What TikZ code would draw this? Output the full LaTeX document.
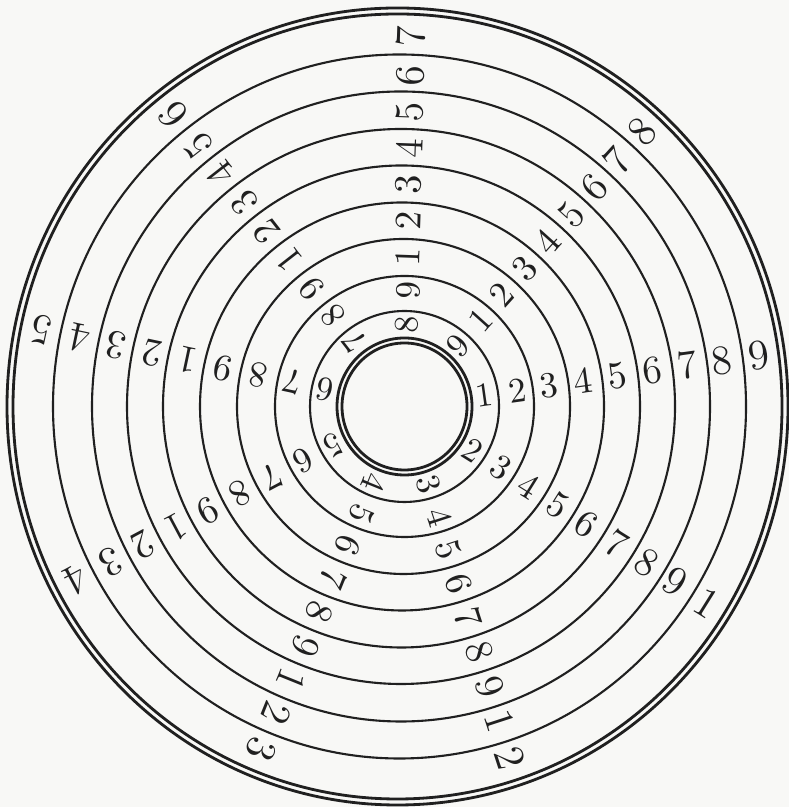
\documentclass[tikz,border=0pt]{standalone}
\definecolor{inkdark}{HTML}{202020}
\definecolor{paper}{HTML}{F8F8F6}

\begin{document}
\begin{tikzpicture}[x=0.01cm, y=0.01cm, line width=0.6pt,
    ring/.style={draw=inkdark},
    rim/.style={draw=inkdark, line width=0.8pt},
    digit/.style={inner sep=0pt, text=inkdark}]

    % Paper
    \fill[paper] (0,0) rectangle (789,807);
    \useasboundingbox (0,0) rectangle (789,807);

    % Hub (double circle)
    \draw[rim] (404.5,400.5) ellipse [x radius=62.5, y radius=63.5];
    \draw[rim] (404.5,400.5) ellipse [x radius=67.5, y radius=68.5];

    % Rings between the hub and the rim
    \foreach \cx/\rx/\ry in {404.5/94.5/95.5, 404.5/129.5/130.5, 403.5/166.5/167.5,
                             402/202/204, 401.5/238.5/241, 401/274/277.5,
                             401/309/315, 399.5/346.5/352} {
        \draw[ring] (\cx,400.5) ellipse [x radius=\rx, y radius=\ry];
    }

    % Rim (double circle)
    \draw[rim] (397.5,400.5) ellipse [x radius=384.5, y radius=392.5];
    \draw[rim] (397.5,400.5) ellipse [x radius=390.5, y radius=398.5];

    % Digits: ring k, spoke j
    \foreach \k/\cx/\rr in {1/404/82, 2/404/116, 3/403/150, 4/402/186, 5/401/222,
                            6/401/258, 7/400/295, 8/399/331, 9/398/370} {
        \pgfmathsetmacro\fs{9.4+0.3*\k}
        \pgfmathsetmacro\rx{0.985*\rr}
        \foreach \j in {0,...,8} {
            \pgfmathtruncatemacro\dg{mod(\k-\j+17,9)+1}
            \pgfmathsetmacro\ang{8+40*\j}
            \node[digit, rotate=\ang, font=\fontsize{\fs}{\fs}\selectfont]
                (d-\k-\j) at ([shift={({\rx*cos(\ang)},{\rr*sin(\ang)})}]\cx,400.5) {\dg};
        }
    }

\end{tikzpicture}
\end{document}
